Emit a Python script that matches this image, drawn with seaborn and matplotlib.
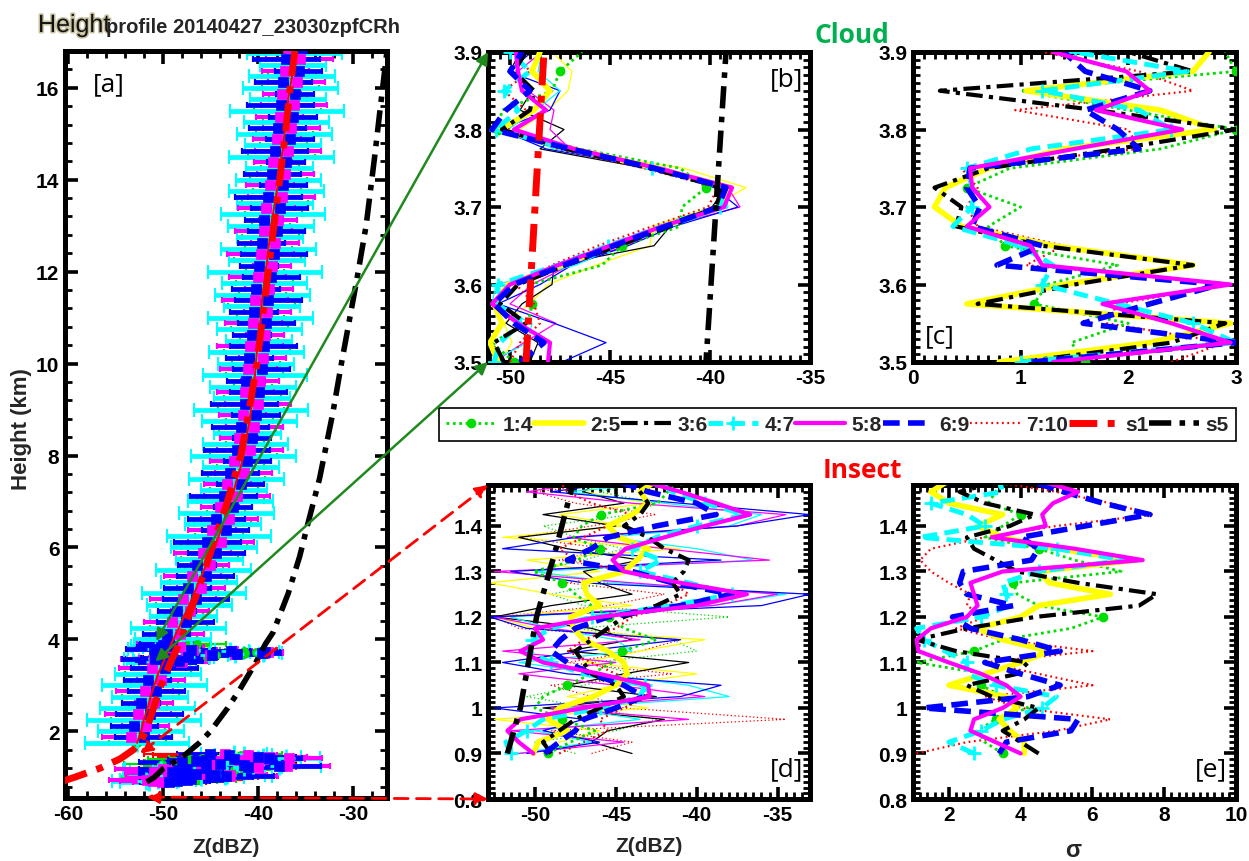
import matplotlib
matplotlib.use("Agg")
import matplotlib.pyplot as plt
import seaborn as sns
from matplotlib.lines import Line2D
from matplotlib.patches import ConnectionPatch
from matplotlib.ticker import MultipleLocator, FuncFormatter
import matplotlib.patheffects as pe

sns.set_style("ticks")
plt.rcParams["font.family"] = ["Liberation Sans", "DejaVu Sans"]
plt.rcParams["font.weight"] = "bold"

# ---------------- data ----------------
series = ["1:4", "2:5", "3:6", "4:7", "5:8", "6:9", "7:10"]

# panel [b]/[c] heights (km)
hb = [3.5, 3.525, 3.55, 3.575, 3.6, 3.625, 3.65, 3.675, 3.7, 3.725, 3.75, 3.775, 3.8, 3.825, 3.85, 3.875, 3.9]
b_14 = [-49.8, -50.9, -49.1, -48.9, -49.0, -45.4, -44.4, -41.5, -41.4, -40.2, -41.5, -46.5, -50.6, -50.4, -47.9, -47.5, -46.4]
b_25 = [-50.6, -51.0, -50.4, -50.8, -50.1, -47.4, -44.9, -42.3, -39.6, -39.0, -42.7, -46.9, -50.5, -48.8, -48.0, -48.9, -48.5]
b_36 = [-50.3, -50.8, -49.2, -50.5, -49.6, -47.2, -44.6, -42.0, -39.7, -39.4, -43.0, -47.2, -50.4, -49.0, -48.8, -49.8, -49.2]
b_47 = [-50.8, -50.5, -49.5, -50.6, -50.6, -47.6, -45.1, -42.4, -39.5, -39.3, -42.9, -47.0, -50.7, -49.6, -50.3, -49.0, -50.0]
b_58 = [-48.1, -48.0, -49.6, -50.9, -50.0, -47.6, -45.0, -42.4, -39.3, -38.9, -42.6, -46.8, -49.8, -48.2, -49.4, -49.6, -49.7]
b_69 = [-49.5, -48.3, -49.8, -50.8, -49.8, -47.3, -44.8, -42.2, -39.6, -39.2, -42.8, -47.0, -50.9, -50.2, -49.0, -50.0, -49.4]
b_710 = [-50.0, -49.5, -48.5, -48.8, -49.7, -47.9, -45.6, -42.9, -40.1, -39.6, -43.3, -47.6, -50.1, -49.2, -50.3, -49.0, -49.8]
tb_blue = [-47.4, -45.2, -47.8, -50.6, -48.5, -46.9, -44.1, -41.8, -38.6, -39.8, -42.6, -48.2, -50.5, -48.0, -47.5, -50.1, -48.9]
tb_black = [-49.0, -48.6, -50.2, -49.4, -47.9, -47.8, -42.8, -42.0, -39.9, -39.2, -43.2, -48.5, -47.3, -49.5, -48.9, -50.0, -49.5]
tb_yellow = [-50.5, -49.9, -50.3, -49.0, -48.1, -45.7, -43.0, -42.9, -39.9, -38.2, -41.3, -47.7, -49.5, -48.1, -47.1, -46.9, -47.9]
tb_magenta = [-50.8, -49.3, -47.7, -50.0, -48.9, -47.0, -44.2, -42.2, -38.5, -39.1, -42.2, -47.0, -48.0, -47.8, -49.1, -49.6, -48.4]
tb_cyan = [-51.0, -49.1, -48.9, -50.9, -50.7, -46.7, -44.6, -41.9, -39.1, -39.3, -42.5, -47.8, -50.1, -48.7, -47.5, -48.6, -48.4]

c_14 = [1.6, 1.47, 2.0, 1.12, 1.25, 1.9, 0.85, 0.7, 1.0, 0.5, 0.9, 2.3, 3.0, 2.0, 1.0, 3.0, 2.9]
c_25 = [0.8, 2.2, 2.95, 0.5, 1.4, 2.6, 1.3, 0.45, 0.2, 0.3, 0.7, 1.4, 2.8, 2.3, 1.05, 2.6, 2.75]
c_36 = [1.0, 2.4, 2.9, 0.6, 1.5, 2.6, 1.2, 0.4, 0.45, 0.2, 0.7, 1.9, 3.0, 1.7, 0.25, 2.6, 2.0]
c_47 = [1.0, 3.0, 2.6, 1.9, 1.2, 1.3, 1.0, 0.37, 0.55, 0.55, 0.5, 1.1, 2.4, 2.1, 1.2, 2.55, 1.5]
c_58 = [1.3, 2.95, 2.4, 1.76, 2.95, 1.2, 1.09, 0.5, 0.71, 0.55, 0.53, 1.5, 2.5, 1.7, 2.2, 1.98, 1.3]
c_69 = [1.1, 3.0, 1.58, 2.2, 2.85, 0.78, 1.2, 0.55, 0.62, 0.5, 0.53, 2.1, 1.9, 1.6, 2.2, 1.6, 1.4]
c_710 = [2.4, 2.9, 1.8, 1.9, 2.95, 1.05, 1.4, 0.6, 0.5, 0.6, 0.45, 2.1, 2.0, 0.95, 2.6, 2.1, 1.2]

# panel [d]/[e] heights (km)
hd = [0.9, 0.925, 0.95, 0.975, 1.0, 1.025, 1.05, 1.075, 1.1, 1.125, 1.15, 1.175, 1.2,
      1.225, 1.25, 1.275, 1.3, 1.325, 1.35, 1.375, 1.4, 1.425, 1.45, 1.475, 1.5]
d_14 = [-49.2, -47.8, -46.3, -48.3, -50.0, -49.5, -48.0, -46.5, -45.2, -44.6, -42.5, -44.5, -45.4,
        -46.5, -47.5, -48.3, -50.1, -47.4, -46.0, -47.6, -47.1, -45.9, -42.4, -41.8, -41.0]
d_25 = [-50.1, -49.8, -48.0, -49.2, -48.5, -46.4, -45.0, -44.3, -44.5, -45.5, -47.0, -47.6, -47.8,
        -46.0, -46.8, -47.0, -44.5, -43.7, -43.0, -44.8, -45.5, -44.0, -43.0, -43.5, -42.5]
d_36 = [-49.0, -49.5, -48.5, -47.5, -46.0, -44.5, -45.0, -46.5, -47.0, -47.5, -46.5, -45.5, -44.5,
        -42.5, -41.0, -41.5, -40.8, -40.5, -42.0, -43.0, -44.5, -43.5, -43.0, -43.5, -44.0]
d_47 = [-51.5, -51.8, -50.5, -49.5, -46.0, -43.5, -43.2, -47.0, -49.0, -50.5, -50.2, -49.0, -46.5,
        -41.5, -37.8, -40.5, -43.5, -42.2, -44.0, -42.5, -40.0, -37.0, -39.5, -41.5, -42.5]
d_58 = [-50.1, -51.0, -51.7, -50.9, -47.0, -42.9, -43.0, -46.0, -49.5, -50.9, -49.5, -50.0, -46.0,
        -40.0, -36.9, -41.0, -44.5, -45.2, -44.4, -42.0, -39.5, -36.7, -38.8, -41.0, -43.5]
d_69 = [-49.4, -48.5, -47.5, -47.0, -45.0, -43.3, -44.5, -46.5, -48.0, -49.0, -48.4, -47.5, -45.5,
        -41.0, -37.8, -41.5, -44.0, -48.0, -46.5, -45.5, -42.5, -38.8, -40.0, -43.0, -45.0]
d_710 = [-48.5, -47.0, -45.5, -46.0, -44.5, -43.0, -43.5, -45.0, -46.5, -48.0, -47.0, -45.0, -44.0,
         -42.0, -40.5, -41.5, -44.5, -47.5, -48.5, -47.0, -45.5, -44.0, -46.5, -48.0, -48.5]
td_blue = [-50.5, -46.0, -49.5, -47.0, -52.5, -41.0, -38.5, -48.0, -52.0, -47.0, -41.0, -50.5, -52.8,
           -36.0, -33.0, -47.0, -51.5, -38.5, -52.0, -47.5, -37.5, -33.0, -41.0, -49.0, -44.0]
td_magenta = [-51.0, -44.5, -51.5, -40.5, -49.0, -39.5, -45.0, -51.0, -45.0, -52.0, -43.5, -49.0, -52.5,
              -39.0, -35.0, -44.0, -52.5, -35.5, -42.0, -48.0, -37.5, -34.5, -44.0, -50.5, -46.0]
td_yellow = [-49.5, -48.5, -46.0, -52.5, -43.0, -48.0, -45.0, -40.0, -47.0, -43.5, -39.5, -50.0, -52.5,
             -44.0, -49.0, -52.8, -46.0, -50.5, -41.0, -52.0, -44.5, -48.5, -43.0, -47.0, -45.0]
td_cyan = [-51.0, -46.5, -50.0, -43.5, -48.0, -38.0, -40.5, -46.0, -51.0, -44.0, -45.0, -49.0, -51.5,
           -39.0, -34.5, -45.0, -50.0, -36.5, -40.0, -45.5, -38.0, -36.0, -42.0, -48.0, -40.5]
td_black = [-44.0, -46.5, -45.5, -42.0, -49.5, -42.5, -48.0, -44.5, -40.5, -48.0, -44.0, -46.5, -52.5,
            -49.0, -44.0, -46.0, -47.0, -43.5, -48.0, -51.0, -45.0, -49.5, -44.5, -47.0, -46.0]
td_red = [-46.5, -44.0, -49.0, -34.5, -44.5, -46.5, -49.0, -41.5, -48.0, -43.5, -41.0, -51.0, -52.5,
          -45.5, -42.0, -48.0, -44.0, -48.5, -45.5, -51.0, -46.5, -42.5, -47.5, -50.0, -44.0]
td_green = [-47.5, -50.0, -45.0, -42.5, -46.5, -50.5, -47.0, -44.0, -46.5, -40.0, -41.5, -47.5, -38.0,
            -47.0, -49.0, -45.5, -50.0, -47.0, -44.5, -47.5, -49.5, -44.0, -42.5, -46.0, -43.0]

e_14 = [3.5, 3.0, 2.8, 3.3, 4.2, 3.5, 2.9, 3.0, 1.1, 2.7, 3.5, 5.4, 6.3, 4.5, 3.9, 3.8, 6.8, 5.5, 4.5, 3.0, 3.5, 4.0, 3.1, 3.3, 3.6]
e_25 = [4.1, 4.1, 3.7, 3.4, 3.9, 3.6, 2.0, 3.0, 4.0, 4.8, 3.5, 2.8, 4.0, 4.5, 6.5, 4.8, 4.5, 7.2, 5.0, 3.5, 2.8, 3.5, 2.0, 1.5, 2.0]
e_36 = [4.5, 4.0, 3.5, 4.1, 4.5, 3.2, 2.5, 3.9, 4.2, 2.2, 1.1, 2.5, 4.4, 7.3, 7.8, 5.6, 3.9, 3.3, 2.7, 2.5, 3.7, 4.4, 3.0, 2.3, 3.5]
e_47 = [2.7, 2.0, 2.9, 3.5, 4.6, 5.0, 3.3, 2.5, 2.5, 1.9, 1.3, 1.1, 2.9, 3.7, 3.6, 3.5, 4.5, 6.9, 5.0, 1.2, 3.0, 2.5, 1.5, 3.5, 3.4]
e_58 = [4.0, 3.3, 2.6, 2.7, 3.5, 4.0, 3.6, 2.9, 2.0, 1.15, 1.1, 1.5, 2.5, 2.8, 2.7, 2.6, 3.5, 7.4, 5.5, 3.2, 4.7, 4.6, 4.9, 5.6, 4.5]
e_69 = [3.4, 3.6, 5.4, 5.6, 1.3, 4.2, 5.1, 4.0, 3.0, 5.1, 4.0, 2.6, 2.1, 3.8, 2.5, 2.3, 2.4, 4.3, 4.5, 4.0, 5.8, 7.6, 6.3, 5.2, 4.2]
e_710 = [1.1, 2.5, 5.0, 6.5, 4.0, 3.0, 6.0, 4.5, 3.0, 6.0, 3.5, 2.2, 3.0, 2.5, 2.6, 2.0, 1.5, 1.2, 1.5, 3.0, 5.0, 7.7, 6.5, 5.0, 3.0]

# panel [a] full-profile band (km, dBZ); two interleaved height samplings
ha = [1.75, 2.0, 2.25, 2.5, 2.75, 3.0, 3.25, 4.0, 4.25, 4.5, 4.75, 5.0, 5.25, 5.5, 5.75, 6.0, 6.25,
      6.5, 6.75, 7.0, 7.25, 7.5, 7.75, 8.0, 8.25, 8.5, 8.75, 9.0, 9.25, 9.5, 9.75, 10.0, 10.25, 10.5,
      10.75, 11.0, 11.25, 11.5, 11.75, 12.0, 12.25, 12.5, 12.75, 13.0, 13.25, 13.5, 13.75, 14.0, 14.25,
      14.5, 14.75, 15.0, 15.25, 15.5, 15.75, 16.0, 16.25, 16.5, 16.75]
ha2 = [1.875, 2.125, 2.375, 2.625, 2.875, 3.125, 3.375, 4.125, 4.375, 4.625, 4.875, 5.125, 5.375, 5.625,
       5.875, 6.125, 6.375, 6.625, 6.875, 7.125, 7.375, 7.625, 7.875, 8.125, 8.375, 8.625, 8.875, 9.125,
       9.375, 9.625, 9.875, 10.125, 10.375, 10.625, 10.875, 11.125, 11.375, 11.625, 11.875, 12.125,
       12.375, 12.625, 12.875, 13.125, 13.375, 13.625, 13.875, 14.125, 14.375, 14.625, 14.875, 15.125,
       15.375, 15.625, 15.875, 16.125, 16.375, 16.625, 16.875]
za_A = [-52.7, -52.3, -52.0, -51.6, -51.3, -50.9, -50.5, -48.9, -48.3, -47.8, -47.2, -46.7, -46.2, -45.7,
        -45.1, -44.6, -44.1, -43.7, -43.3, -42.9, -42.5, -42.2, -41.8, -41.5, -41.3, -41.1, -40.9, -40.7,
        -40.6, -40.5, -40.3, -40.2, -40.1, -39.9, -39.8, -39.7, -39.6, -39.5, -39.3, -39.2, -39.0, -38.9,
        -38.7, -38.6, -38.4, -38.2, -38.0, -37.8, -37.7, -37.5, -37.3, -37.2, -37.0, -36.9, -36.8, -36.6,
        -36.4, -36.3, -36.1]
za_B = [-53.4, -51.8, -52.6, -50.9, -51.9, -50.2, -51.1, -48.2, -49.0, -47.1, -47.9, -46.0, -46.9, -45.0,
        -45.8, -43.9, -44.8, -43.0, -44.0, -42.2, -43.2, -41.5, -42.5, -40.8, -42.0, -40.4, -41.6, -40.0,
        -41.3, -39.8, -41.0, -39.5, -40.8, -39.2, -40.5, -39.0, -40.3, -38.8, -40.0, -38.5, -39.7, -38.2,
        -39.4, -37.9, -39.1, -37.5, -38.7, -37.1, -38.4, -36.8, -38.0, -36.5, -37.7, -36.2, -37.5, -35.9,
        -37.1, -35.6, -36.8]
za_C = [-52.0, -53.0, -51.4, -52.3, -50.7, -51.6, -49.8, -49.6, -47.6, -48.5, -46.5, -47.4, -45.5, -46.4,
        -44.4, -45.3, -43.4, -44.4, -42.6, -43.6, -41.8, -42.9, -41.1, -42.2, -40.6, -41.8, -40.2, -41.4,
        -39.9, -41.2, -39.6, -40.9, -39.4, -40.6, -39.1, -40.4, -38.9, -40.2, -38.6, -39.9, -38.3, -39.6,
        -38.0, -39.3, -37.7, -38.9, -37.3, -38.5, -37.0, -38.2, -36.6, -37.9, -36.3, -37.6, -36.1, -37.3,
        -35.7, -37.0, -35.4]
err_wide = [5.5, 4.5, 6.0, 5.0, 4.0, 5.5, 4.5, 4.0, 5.0, 3.5,
            4.5, 5.5, 4.0, 5.0, 3.5, 4.5, 5.5, 4.0, 5.0, 4.5,
            3.5, 5.0, 4.0, 5.5, 4.5, 3.5, 5.0, 6.0, 4.0, 4.5,
            5.5, 4.0, 5.0, 3.5, 4.5, 5.5, 4.0, 5.0, 4.5, 6.0,
            4.0, 5.0, 3.5, 4.5, 5.5, 4.0, 5.0, 4.5, 3.5, 5.5,
            4.0, 5.0, 4.5, 6.0, 4.0, 5.0, 4.5, 3.5, 5.0]
err_narrow = [3.0, 2.5, 3.5, 2.0, 3.0, 2.5, 3.5, 2.5, 3.0, 2.0,
              3.5, 2.5, 3.0, 2.0, 3.0, 3.5, 2.5, 3.0, 2.0, 3.5,
              2.5, 3.0, 2.5, 3.5, 2.0, 3.0, 2.5, 3.5, 3.0, 2.0,
              3.0, 2.5, 3.5, 2.0, 3.0, 2.5, 3.5, 2.5, 3.0, 2.0,
              3.5, 2.5, 3.0, 2.0, 3.0, 3.5, 2.5, 3.0, 2.0, 3.5,
              2.5, 3.0, 2.5, 3.5, 2.0, 3.0, 2.5, 3.5, 3.0]
err_d = [3.0, 3.5, 4.0, 3.0, 4.5, 5.0, 4.0, 3.5, 4.5, 3.0, 4.0, 5.0, 4.5, 4.0, 4.5, 3.5, 4.0, 4.5, 3.0, 4.0, 4.5, 3.5, 4.0, 3.0, 3.5]
err_b = [3.0, 2.5, 3.0, 3.5, 2.5, 3.0, 2.0, 2.5, 2.0, 1.5, 2.0, 2.5, 3.0, 2.5, 3.0, 2.5, 3.0]

# fitted profiles s1, s5
s1_h = [0.9, 1.0, 1.2, 1.4, 1.6, 1.8, 2.0, 2.5, 3.0, 3.5, 3.9, 4.5, 5.0, 6.0, 7.0, 8.0, 9.0, 10.0,
        11.0, 12.0, 13.0, 14.0, 15.0, 16.0, 16.8]
s1_z = [-60.8, -59.3, -56.6, -54.5, -53.1, -52.3, -51.8, -51.0, -50.2, -49.2, -48.3, -47.3, -46.4,
        -44.8, -43.2, -41.8, -40.9, -40.1, -39.5, -38.9, -38.3, -37.7, -37.1, -36.6, -36.1]
s5_h = [0.9, 1.0, 1.2, 1.35, 1.5, 1.76, 2.0, 2.5, 2.91, 3.5, 3.9, 4.15, 5.0, 5.8, 6.46, 7.5, 8.93,
        10.0, 11.8, 13.0, 14.5, 15.4, 16.8]
s5_z = [-51.7, -50.9, -49.9, -48.7, -47.6, -46.1, -45.0, -43.2, -41.9, -40.2, -39.2, -38.4, -36.8,
        -35.6, -34.8, -33.5, -32.1, -31.2, -29.6, -28.6, -27.7, -27.2, -26.4]

b_vals = dict(zip(series, [b_14, b_25, b_36, b_47, b_58, b_69, b_710]))
c_vals = dict(zip(series, [c_14, c_25, c_36, c_47, c_58, c_69, c_710]))
d_vals = dict(zip(series, [d_14, d_25, d_36, d_47, d_58, d_69, d_710]))
e_vals = dict(zip(series, [e_14, e_25, e_36, e_47, e_58, e_69, e_710]))
a_vals = dict(zip(series, [za_A, za_B, za_C, za_A, za_B, za_C, za_A]))
a_hts = dict(zip(series, [ha, ha2, ha2, ha, ha2, ha2, ha]))

# ---------------- styles ----------------
DD = (0, (4, 1.5, 1, 1.5))
styles = {
    "1:4": dict(color="#00DD00", linestyle=(0, (1, 1.3)), lw=2.0, marker="o", ms=6,
                mec="#00DD00", mew=1, markevery=3),
    "2:5": dict(color="#FFFF00", linestyle="-", lw=4.0),
    "3:6": dict(color="black", linestyle=DD, lw=3.0),
    "4:7": dict(color="#00FFFF", linestyle=(0, (3, 1.5)), lw=3.5, marker="+", ms=10,
                mec="#00FFFF", mew=2, markevery=2),
    "5:8": dict(color="#FF00FF", linestyle="-", lw=3.0),
    "6:9": dict(color="#0000FF", linestyle=(0, (3, 1.5)), lw=4.0),
    "7:10": dict(color="#FF0000", linestyle=(0, (0.8, 1.6)), lw=1.6),
}
s1_style = dict(color="#FF0000", linestyle=DD, lw=5)
s5_style = dict(color="black", linestyle=DD, lw=4)
thin_style = dict(lw=0.9)

W, H = 1249, 862
fig = plt.figure(figsize=(W / 100, H / 100), dpi=100)


def px_axes(l, t, r, b):
    return fig.add_axes([l / W, 1 - b / H, (r - l) / W, (b - t) / H])


axA = px_axes(65, 52, 387, 799)
axB = px_axes(488, 53, 810, 363)
axC = px_axes(913, 53, 1236, 363)
axD = px_axes(488, 486, 810, 800)
axE = px_axes(913, 486, 1236, 800)


def vline(ax, xs, ys, z=2, **kw):
    sns.lineplot(x=xs, y=ys, sort=False, estimator=None, ax=ax, legend=False, zorder=z, **kw)


# ---------------- panel [a] ----------------
a_order = ["3:6", "2:5", "7:10", "1:4", "4:7", "5:8", "6:9"]
a_marker = {"4:7": ("+", 160), "6:9": ("s", 45), "5:8": ("s", 60), "2:5": ("s", 20),
            "3:6": ("s", 12), "1:4": ("o", 35), "7:10": (".", 10)}
a_ew = {"4:7": 3.4, "6:9": 3.4, "5:8": 3.0, "2:5": 2.0, "3:6": 1.6, "1:4": 1.6, "7:10": 1.6}
for nm in a_order:
    col = styles[nm]["color"]
    wide = nm == "4:7"
    for xs, ys, er in [(a_vals[nm], a_hts[nm], err_wide if wide else err_narrow),
                       (d_vals[nm], hd, err_d), (b_vals[nm], hb, err_b)]:
        axA.errorbar(xs, ys, xerr=er, fmt="none", ecolor=col, elinewidth=a_ew[nm],
                     capsize=5 if wide else 2, capthick=1.5, zorder=2)
        mk, sz = a_marker[nm]
        sns.scatterplot(x=xs, y=ys, ax=axA, marker=mk, s=sz, color=col,
                        edgecolor=col if mk != "+" else None, linewidth=2 if mk == "+" else 0.5,
                        legend=False, zorder=3)
vline(axA, za_A, ha, z=4, color="#FF0000", lw=1.5)
vline(axA, s1_z, s1_h, z=5, **s1_style)
vline(axA, s5_z, s5_h, z=5, **s5_style)

# ---------------- panel [b] ----------------
for xs, col in [(tb_yellow, "#FFFF00"), (tb_black, "black"), (tb_magenta, "#FF00FF"),
                (tb_blue, "#0000FF"), (tb_cyan, "#00FFFF")]:
    vline(axB, xs, hb, z=2, color=col, **thin_style)
b_order = ["1:4", "7:10", "2:5", "4:7", "3:6", "5:8", "6:9"]
for nm in b_order:
    vline(axB, b_vals[nm], hb, z=3, **styles[nm])
vline(axB, s1_z, s1_h, z=5, **s1_style)
vline(axB, s5_z, s5_h, z=5, **s5_style)

# ---------------- panel [c] ----------------
c_order = ["7:10", "1:4", "2:5", "3:6", "4:7", "6:9", "5:8"]
for nm in c_order:
    vline(axC, c_vals[nm], hb, z=3, **styles[nm])

# ---------------- panel [d] ----------------
for xs, col, ls in [(td_red, "#FF0000", (0, (1, 2))), (td_green, "#00DD00", (0, (1, 2))),
                    (td_yellow, "#FFFF00", "-"), (td_black, "black", "-"),
                    (td_cyan, "#00FFFF", "-"), (td_magenta, "#FF00FF", "-"), (td_blue, "#0000FF", "-")]:
    vline(axD, xs, hd, z=2, color=col, linestyle=ls, **thin_style)
d_order = ["7:10", "1:4", "2:5", "4:7", "3:6", "6:9", "5:8"]
for nm in d_order:
    vline(axD, d_vals[nm], hd, z=3, **styles[nm])
vline(axD, s1_z, s1_h, z=5, **s1_style)
vline(axD, s5_z, s5_h, z=5, **s5_style)

# ---------------- panel [e] ----------------
e_order = ["7:10", "1:4", "2:5", "4:7", "3:6", "6:9", "5:8"]
for nm in e_order:
    vline(axE, e_vals[nm], hd, z=3, **styles[nm])

# ---------------- axes styling ----------------
fmt = FuncFormatter(lambda v, p: f"{v:g}")


def style_ax(ax, xlim, ylim, xmaj, xmin, ymaj, ymin):
    ax.set_xlim(*xlim)
    ax.set_ylim(*ylim)
    ax.xaxis.set_major_locator(MultipleLocator(xmaj))
    ax.xaxis.set_minor_locator(MultipleLocator(xmin))
    ax.yaxis.set_major_locator(MultipleLocator(ymaj))
    ax.yaxis.set_minor_locator(MultipleLocator(ymin))
    ax.xaxis.set_major_formatter(fmt)
    ax.yaxis.set_major_formatter(fmt)
    ax.tick_params(which="both", direction="in", top=True, right=True,
                   labelsize=15, pad=4, colors="black")
    ax.tick_params(which="major", length=9, width=2.6)
    ax.tick_params(which="minor", length=5, width=2.0)
    for s in ax.spines.values():
        s.set_linewidth(3.6)
        s.set_color("black")
    ax.set_xlabel("")
    ax.set_ylabel("")
    ax.set_facecolor("white")


style_ax(axA, (-60.3, -26.4), (0.55, 16.8), 10, 2, 2, 0.4)
style_ax(axB, (-51.1, -35), (3.5, 3.9), 5, 0.5, 0.1, 0.01)
style_ax(axC, (0, 3), (3.5, 3.9), 1, 0.1, 0.1, 0.01)
style_ax(axD, (-52.9, -33), (0.8, 1.49), 5, 0.5, 0.1, 0.0125)
style_ax(axE, (1, 10), (0.8, 1.49), 2, 0.2, 0.1, 0.0125)

# panel tags
tag_kw = dict(fontsize=19, fontfamily="Open Sans", fontweight="normal", color="black")
axA.text(0.087, 0.956, "[a]", transform=axA.transAxes, ha="left", va="center", **tag_kw)
axB.text(0.978, 0.913, "[b]", transform=axB.transAxes, ha="right", va="center", **tag_kw)
axC.text(0.037, 0.084, "[c]", transform=axC.transAxes, ha="left", va="center", **tag_kw)
axD.text(0.978, 0.096, "[d]", transform=axD.transAxes, ha="right", va="center", **tag_kw)
axE.text(0.972, 0.096, "[e]", transform=axE.transAxes, ha="right", va="center", **tag_kw)


def ftext(x, y, s, **kw):
    fig.text(x / W, 1 - y / H, s, **kw)


ftext(38, 33, "Height", fontsize=18, fontweight="normal", va="baseline", ha="left", color="#111111",
      path_effects=[pe.withStroke(linewidth=2.2, foreground="#c9c2a0")])
ftext(106, 33, "profile 20140427_23030zpfCRh", fontsize=14.5, fontweight="bold", va="baseline", ha="left")
ftext(852, 43, "Cloud", fontsize=19, fontfamily="Open Sans", fontweight="bold", color="#00B050",
      ha="center", va="baseline")
ftext(862, 478, "Insect", fontsize=19, fontfamily="Open Sans", fontweight="bold", color="#FF0000",
      ha="center", va="baseline")
ftext(22, 429, "Height (km)", fontsize=16, fontweight="bold", rotation=90, ha="center", va="center")
ftext(226, 848, "Z(dBZ)", fontsize=15, fontweight="bold", ha="center", va="center")
ftext(649, 847, "Z(dBZ)", fontsize=15, fontweight="bold", ha="center", va="center")
ftext(1073, 851, "σ", fontsize=17, fontweight="bold", ha="center", va="center")

# ---------------- connection arrows ----------------
for xa, ya, yb in [(-50.7, 3.96, 3.9), (-50.8, 3.52, 3.5)]:
    con = ConnectionPatch(xyA=(xa, ya), coordsA="data", axesA=axA,
                          xyB=(-51.1, yb), coordsB="data", axesB=axB,
                          arrowstyle="<|-|>", color="#1E8A1E", lw=1.8, mutation_scale=18, zorder=20)
    fig.add_artist(con)
for xa, ya, yb in [(-52.4, 1.52, 1.49), (-51.7, 0.57, 0.8)]:
    con = ConnectionPatch(xyA=(xa, ya), coordsA="data", axesA=axA,
                          xyB=(-52.9, yb), coordsB="data", axesB=axD,
                          arrowstyle="<|-|>", color="#FF0000", lw=2.0, linestyle=(0, (5, 3)),
                          mutation_scale=18, zorder=20)
    fig.add_artist(con)

# ---------------- legend ----------------
handles = []
for nm in series:
    st = styles[nm]
    handles.append(Line2D([0], [0], color=st["color"], linestyle=st["linestyle"], lw=st["lw"],
                          marker=st.get("marker", None), ms=st.get("ms", 0),
                          mec=st.get("mec", st["color"]), mew=st.get("mew", 1)))
handles.append(Line2D([0], [0], **{k: v for k, v in s1_style.items()}))
handles.append(Line2D([0], [0], **{k: v for k, v in s5_style.items()}))
labels = series + ["s1", "s5"]
leg = fig.legend(handles, labels, loc="center", ncol=9, mode="expand",
                 bbox_to_anchor=(439 / W, 1 - 445 / H, (1236 - 439) / W, 39 / H),
                 fontsize=15, frameon=True, fancybox=False, edgecolor="black", framealpha=1,
                 handlelength=2.4, handletextpad=0.3, columnspacing=0.4, borderpad=0.35,
                 borderaxespad=0, numpoints=1)
leg.get_frame().set_linewidth(1.2)

fig.savefig("out.png", dpi=100, facecolor="white")
